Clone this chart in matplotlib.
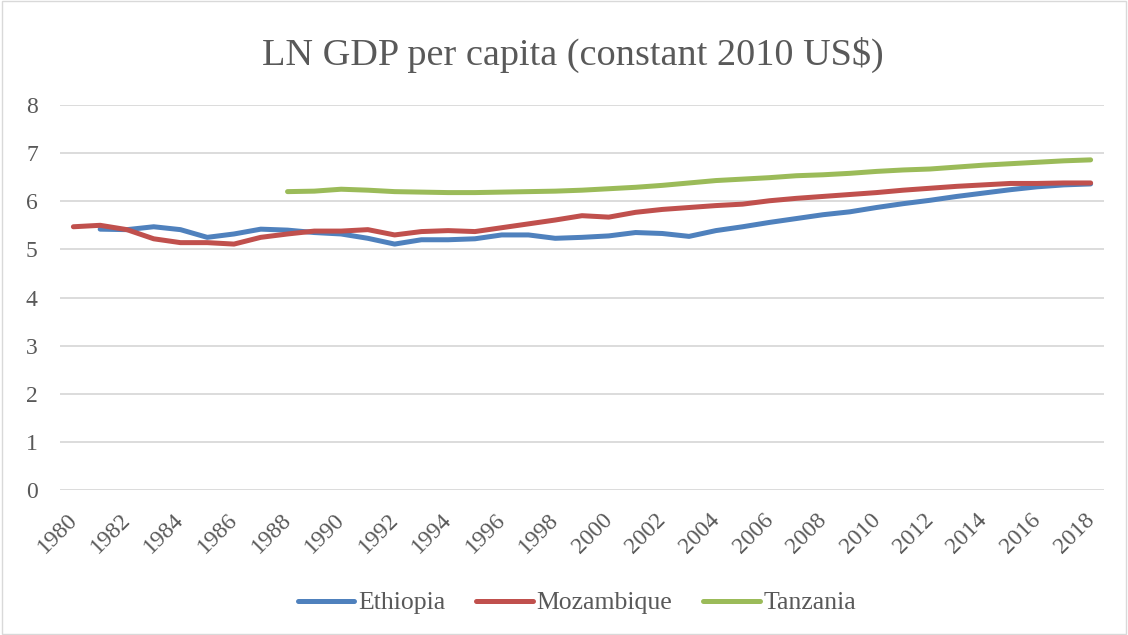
import matplotlib.pyplot as plt
from matplotlib.patches import Rectangle
from matplotlib.transforms import ScaledTranslation

years = list(range(1980, 2019))

ethiopia = [None, 5.42, 5.41, 5.47, 5.41, 5.25, 5.32, 5.42, 5.40, 5.35,
            5.32, 5.23, 5.11, 5.20, 5.20, 5.22, 5.30, 5.30, 5.23, 5.25,
            5.28, 5.35, 5.33, 5.27, 5.39, 5.47, 5.56, 5.64, 5.72, 5.78,
            5.87, 5.95, 6.02, 6.10, 6.17, 6.24, 6.30, 6.34, 6.36]
mozambique = [5.47, 5.50, 5.41, 5.22, 5.14, 5.14, 5.11, 5.25, 5.32, 5.38,
              5.38, 5.41, 5.30, 5.37, 5.39, 5.37, 5.45, 5.53, 5.61, 5.70,
              5.67, 5.77, 5.83, 5.87, 5.91, 5.94, 6.01, 6.06, 6.10, 6.14,
              6.18, 6.23, 6.27, 6.31, 6.34, 6.37, 6.37, 6.38, 6.38]
tanzania = [None] * 8 + [6.20, 6.21, 6.25, 6.23, 6.20, 6.19, 6.18, 6.18,
                         6.19, 6.20, 6.21, 6.23, 6.26, 6.29, 6.33, 6.38,
                         6.43, 6.46, 6.49, 6.53, 6.55, 6.58, 6.62, 6.65,
                         6.67, 6.71, 6.75, 6.78, 6.81, 6.84, 6.86]

series = [("Ethiopia", ethiopia, "#4F81BD"),
          ("Mozambique", mozambique, "#C0504D"),
          ("Tanzania", tanzania, "#9BBB59")]

plt.rcParams['font.family'] = ['Liberation Serif', 'DejaVu Serif']
txt = "#595959"

fig = plt.figure(figsize=(11.28, 6.35), dpi=100)
ax = fig.add_axes([60 / 1128, 1 - 490 / 635, 1044 / 1128, 385 / 635])

for name, vals, col in series:
    xs = [y for y, v in zip(years, vals) if v is not None]
    ys = [v for v in vals if v is not None]
    ax.plot(xs, ys, color=col, lw=3.6, solid_capstyle='round',
            solid_joinstyle='round', label=name)

ax.set_xlim(1979.5, 2018.5)
ax.set_ylim(0, 8)
ax.set_yticks(range(0, 9))
ax.set_xticks(years[::2])
ax.set_xticklabels([str(y) for y in years[::2]], rotation=45,
                   ha='right', va='top', rotation_mode='anchor')
ax.tick_params(length=0, labelsize=17, labelcolor=txt)
ax.tick_params(axis='y', pad=16)
ax.tick_params(axis='x', pad=14)
# nudge rotated year labels a bit to the left
shift = ScaledTranslation(-5 / 72, 0, fig.dpi_scale_trans)
for lab in ax.get_xticklabels():
    lab.set_transform(lab.get_transform() + shift)
ax.grid(axis='y', color='#D9D9D9', lw=1.3)
ax.set_axisbelow(True)
for s in ax.spines.values():
    s.set_visible(False)

fig.text(573 / 1128, 1 - 55 / 635, "LN GDP per capita (constant 2010 US$)",
         ha='center', va='center', fontsize=27.5, color=txt)

fig.legend(loc='center', bbox_to_anchor=(577 / 1128, 1 - 603 / 635),
           ncol=3, frameon=False, fontsize=18.5, labelcolor=txt,
           handlelength=2.2, handletextpad=0.15, columnspacing=1.2)

fig.patches.append(Rectangle((0.002, 0.002), 0.996, 0.996, transform=fig.transFigure,
                             fill=False, edgecolor='#D9D9D9', lw=1))

fig.savefig("out.png", dpi=100)
